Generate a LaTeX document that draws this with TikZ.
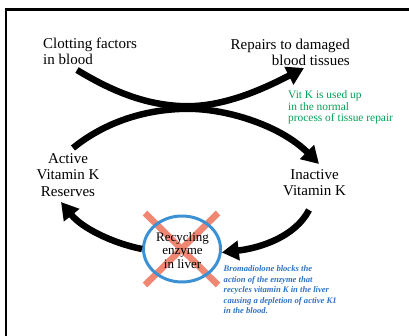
\documentclass[tikz,border=0pt]{standalone}
\usepackage{fontspec}
\setmainfont{Liberation Serif}
\usetikzlibrary{arrows.meta,shapes.geometric}
\definecolor{vkgreen}{RGB}{0,160,85}
\definecolor{vkblue}{RGB}{45,115,195}
\definecolor{ringblue}{RGB}{60,145,212}
\definecolor{xsalmon}{RGB}{240,135,115}
\tikzset{
  label15/.style={inner sep=0pt, font=\fontsize{15}{16.2}\selectfont},
  flow/.style={line width=6.5pt, -{Triangle[length=17pt,width=19pt]}},
  ring/.style={ellipse, draw=ringblue, line width=3pt, minimum width=77pt, minimum height=66pt, inner sep=0pt},
  cross/.style={draw=xsalmon, line width=6.5pt},
}
\begin{document}
\begin{tikzpicture}[x=1pt,y=-1pt]
\useasboundingbox (0,0) rectangle (409,335);
% frame
\draw[line width=2.3pt] (6,337) -- (6,9.5) -- (411,9.5);
% text nodes (base anchor = baseline of last line)
\node[label15, anchor=base west, align=left] (clot) at (43,64.2) {Clotting factors\\in blood};
\node[label15, anchor=base east, align=right] (repair) at (350,65.7) {Repairs to damaged\\blood tissues};
\node[label15, anchor=base, align=center] (active) at (68,196) {Active\\Vitamin K\\Reserves};
\node[label15, anchor=base, align=center] (inactive) at (314.5,195.2) {Inactive\\Vitamin K};
\node[inner sep=0pt, anchor=base west, align=left, text=vkgreen, font=\fontsize{11.4}{11.7}\selectfont] (usedup) at (288,121.7) {Vit K is used up\\in the normal\\process of tissue repair};
\node[inner sep=0pt, anchor=base west, align=left, text=vkblue, font=\fontsize{8.6}{10.5}\selectfont\bfseries\itshape] (brom) at (223.5,313.7) {Bromadiolone blocks the\\action of the enzyme that\\recycles vitamin K in the liver\\causing a depletion of active K1\\in the blood.};
% cross
\coordinate (xa) at (145,213);
\coordinate (xb) at (218,285);
\coordinate (xc) at (218,213);
\coordinate (xd) at (145,285);
\draw[cross] (xa) -- (xb);
\draw[cross] (xc) -- (xd);
% enzyme ring
\node[ring] (enzyme) at (182,249) {};
\node[inner sep=0pt, anchor=base, align=center, font=\fontsize{13}{13.6}\selectfont] (enzymetxt) at (182.5,268.2) {Recycling\\enzyme\\in liver};
% arrow ends and meeting points
\coordinate (a1s) at (77,70);
\coordinate (a1m) at (185,106.2);
\coordinate (a1e) at (304,68);
\coordinate (a2s) at (73,148);
\coordinate (a2m) at (185,108.8);
\coordinate (a2e) at (319,164);
\coordinate (a3s) at (309,210);
\coordinate (a4e) at (61,202);
\draw[flow] (a1s) .. controls (110,90) and (145,105.5) .. (a1m) .. controls (225,107) and (265,88) .. (a1e);
\draw[flow] (a2s) .. controls (105,122) and (145,109.5) .. (a2m) .. controls (225,108) and (280,125) .. (a2e);
\draw[flow] (a3s) .. controls (295,237) and (260,248) .. (enzyme.-5);
\draw[flow] (enzyme.180) .. controls (112,243) and (82,228) .. (a4e);
\end{tikzpicture}
\end{document}
